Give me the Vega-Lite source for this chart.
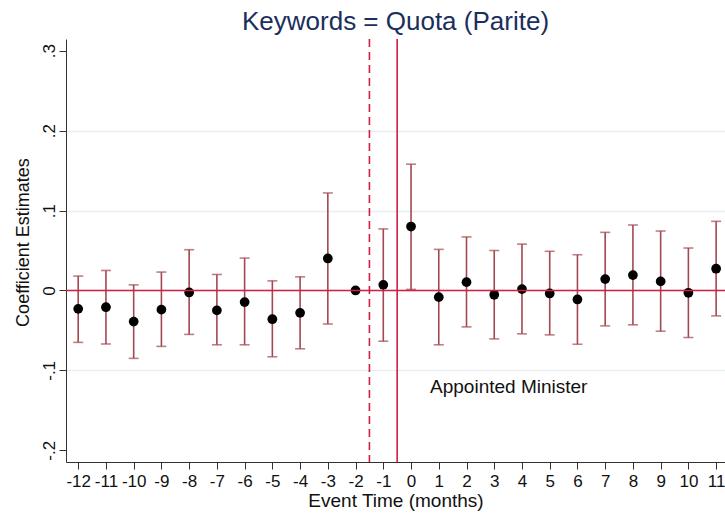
{
  "$schema": "https://vega.github.io/schema/vega-lite/v6.json",
  "width": 659,
  "height": 423,
  "autosize": {"type": "none"},
  "padding": {"left": 66, "top": 39, "right": 0, "bottom": 56},
  "background": "white",
  "config": {
    "view": {"stroke": null},
    "font": "Liberation Sans",
    "axisX": {"labelOverlap": false, "labelFlush": false, "labelSeparation": -15, "tickCount": 24}
  },
  "title": {
    "text": "Keywords = Quota (Parite)",
    "fontSize": 26,
    "font": "Liberation Sans",
    "fontWeight": "normal",
    "color": "#1b2e5c",
    "anchor": "middle",
    "baseline": "alphabetic",
    "offset": 9,
    "dy": 27
  },
  "data": {
    "values": [
      {"t": -12, "b": -0.023, "lo": -0.065, "hi": 0.018},
      {"t": -11, "b": -0.021, "lo": -0.067, "hi": 0.025},
      {"t": -10, "b": -0.039, "lo": -0.085, "hi": 0.007},
      {"t": -9, "b": -0.024, "lo": -0.070, "hi": 0.023},
      {"t": -8, "b": -0.0025, "lo": -0.055, "hi": 0.051},
      {"t": -7, "b": -0.025, "lo": -0.068, "hi": 0.020},
      {"t": -6, "b": -0.0146, "lo": -0.068, "hi": 0.0405},
      {"t": -5, "b": -0.036, "lo": -0.083, "hi": 0.012},
      {"t": -4, "b": -0.028, "lo": -0.073, "hi": 0.017},
      {"t": -3, "b": 0.040, "lo": -0.042, "hi": 0.122},
      {"t": -2, "b": 0, "lo": null, "hi": null},
      {"t": -1, "b": 0.007, "lo": -0.0635, "hi": 0.077},
      {"t": 0, "b": 0.080, "lo": 0.0013, "hi": 0.158},
      {"t": 1, "b": -0.0084, "lo": -0.068, "hi": 0.0514},
      {"t": 2, "b": 0.0104, "lo": -0.0456, "hi": 0.067},
      {"t": 3, "b": -0.0054, "lo": -0.0606, "hi": 0.050},
      {"t": 4, "b": 0.0017, "lo": -0.0543, "hi": 0.058},
      {"t": 5, "b": -0.0038, "lo": -0.0556, "hi": 0.049},
      {"t": 6, "b": -0.0113, "lo": -0.0673, "hi": 0.0447},
      {"t": 7, "b": 0.0142, "lo": -0.0443, "hi": 0.0727},
      {"t": 8, "b": 0.0192, "lo": -0.043, "hi": 0.0819},
      {"t": 9, "b": 0.0113, "lo": -0.051, "hi": 0.0744},
      {"t": 10, "b": -0.0029, "lo": -0.0589, "hi": 0.0531},
      {"t": 11, "b": 0.0272, "lo": -0.0318, "hi": 0.0865}
    ]
  },
  "layer": [
    {
      "transform": [{"filter": "datum.lo != null"}],
      "mark": {
        "type": "errorbar",
        "color": "#a24850",
        "thickness": 1.6,
        "ticks": {"size": 10, "thickness": 1.6, "color": "#a24850"}
      },
      "encoding": {
        "x": {
          "field": "t",
          "type": "quantitative",
          "scale": {"domain": [-12.44, 11.32], "nice": false, "zero": false},
          "axis": {
            "values": [-12, -11, -10, -9, -8, -7, -6, -5, -4, -3, -2, -1, 0, 1, 2, 3, 4, 5, 6, 7, 8, 9, 10, 11],
            "tickCount": 24,
            "labelExpr": "'' + datum.value",
            "title": "Event Time (months)",
            "titleFont": "Liberation Sans",
            "titleFontSize": 19,
            "titleFontWeight": "normal",
            "titleColor": "#111111",
            "titleY": 44,
            "titleBaseline": "alphabetic",
            "labelFont": "Liberation Sans",
            "labelFontSize": 17,
            "labelColor": "#111111",
            "labelOverlap": false,
            "labelSeparation": -15,
            "labelFlush": false,
            "labelBound": false,
            "labelPadding": 4,
            "tickSize": 7,
            "tickColor": "#333333",
            "domainColor": "#333333",
            "grid": false
          }
        },
        "y": {
          "field": "lo",
          "type": "quantitative",
          "scale": {"domain": [-0.2147, 0.3147], "nice": false, "zero": false},
          "axis": {
            "values": [-0.2, -0.1, 0, 0.1, 0.2, 0.3],
            "labelExpr": "abs(datum.value) < 1e-9 ? '0' : (datum.value < 0 ? '-' : '') + replace(format(abs(datum.value), '.1f'), '0.', '.')",
            "title": "Coefficient Estimates",
            "titleFont": "Liberation Sans",
            "titleFontSize": 18,
            "titleFontWeight": "normal",
            "titleColor": "#111111",
            "titleAngle": -90,
            "titleX": -43,
            "titleY": 203,
            "titleAlign": "center",
            "titleBaseline": "middle",
            "labelFont": "Liberation Sans",
            "labelFontSize": 17,
            "labelColor": "#111111",
            "labelAngle": -90,
            "labelAlign": "center",
            "labelBaseline": "alphabetic",
            "labelOverlap": false,
            "labelFlush": false,
            "labelBound": false,
            "labelPadding": 5,
            "tickSize": 7,
            "tickColor": "#333333",
            "domainColor": "#333333",
            "grid": true,
            "gridColor": "#e6eef1",
            "gridWidth": 1.5,
            "gridOpacity": {"condition": {"test": "datum.value > 0.25 || datum.value < -0.15", "value": 0}, "value": 1}
          }
        },
        "y2": {"field": "hi"}
      }
    },
    {
      "mark": {"type": "point", "filled": true, "color": "#000000", "opacity": 1, "size": 95},
      "encoding": {
        "x": {"field": "t", "type": "quantitative"},
        "y": {"field": "b", "type": "quantitative"}
      }
    },
    {
      "data": {"values": [{}]},
      "mark": {"type": "rule", "color": "#d21d45", "strokeWidth": 1.6},
      "encoding": {"y": {"datum": 0}}
    },
    {
      "data": {"values": [{}]},
      "mark": {"type": "rule", "color": "#d21d45", "strokeWidth": 1.6},
      "encoding": {"x": {"datum": -0.5}}
    },
    {
      "data": {"values": [{}]},
      "mark": {"type": "rule", "color": "#d21d45", "strokeWidth": 1.6, "strokeDash": [8, 5]},
      "encoding": {"x": {"datum": -1.5}}
    },
    {
      "data": {"values": [{}]},
      "mark": {"type": "text", "text": "Appointed Minister", "align": "left", "baseline": "middle", "fontSize": 19, "font": "Liberation Sans", "color": "#111111"},
      "encoding": {"x": {"datum": 0.685}, "y": {"datum": -0.121}}
    }
  ]
}
